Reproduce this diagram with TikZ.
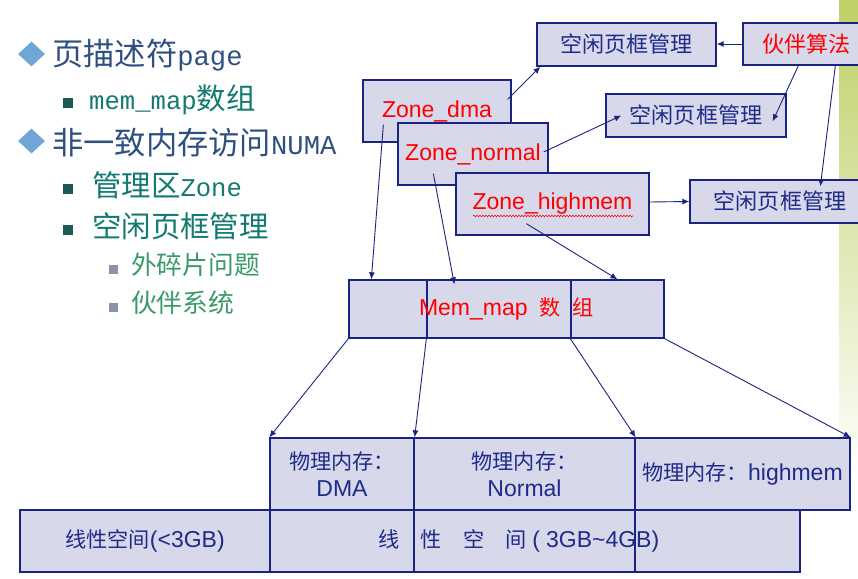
\documentclass[tikz,border=0pt]{standalone}
\usepackage{fontspec}
\setmainfont{Liberation Sans}
\newfontfamily\cjk[Scale=0.92]{Noto Sans CJK SC}
\newfontfamily\listmono[Scale=0.8]{Liberation Mono}
\usetikzlibrary{arrows.meta, shapes.geometric, decorations.pathmorphing}

\definecolor{boxfill}{RGB}{215,216,234}
\definecolor{boxline}{RGB}{26,35,128}
\definecolor{navytext}{RGB}{31,42,138}
\definecolor{headblue}{RGB}{46,80,128}
\definecolor{diamondblue}{RGB}{111,166,214}
\definecolor{subteal}{RGB}{18,122,112}
\definecolor{squareteal}{RGB}{27,91,85}
\definecolor{leafgreen}{RGB}{58,154,104}
\definecolor{leafgrey}{RGB}{138,147,170}
\definecolor{stripgreen}{RGB}{190,208,102}

\begin{document}
\begin{tikzpicture}[x=1pt, y=-1pt, >={Latex[length=7pt,width=6pt]},
		box/.style={draw=boxline, fill=boxfill, line width=1.3pt, inner sep=0pt},
		freebox/.style={box, text=navytext, font=\fontsize{24}{28}\selectfont},
		zonebox/.style={box, text=red, minimum height=62, font=\fontsize{23}{27}\selectfont},
		physbox/.style={box, text=navytext, align=center, font=\fontsize{23}{27}\selectfont},
		headtext/.style={anchor=west, inner sep=0pt, text=headblue, font=\fontsize{34}{40}\selectfont},
		subtext/.style={anchor=west, inner sep=0pt, text=subteal, font=\fontsize{32}{38}\selectfont},
		leaftext/.style={anchor=west, inner sep=0pt, text=leafgreen, font=\fontsize{28}{34}\selectfont}]

		\useasboundingbox (0,0) rectangle (858,578);
		\shade[top color=stripgreen, bottom color=white] (839,0) rectangle (858,480);

		% bullet list
		\node at (31.5,54) [diamond, fill=diamondblue, inner sep=0pt, minimum width=27, minimum height=25] (DiaPage) {};
		\node at (52,55) [headtext] (ItemPage) {{\cjk 页描述符}{\listmono page}};
		\node at (68,103) [fill=squareteal, inner sep=0pt, minimum size=10] (SqMemMap) {};
		\node at (89,100) [subtext] (ItemMemMap) {{\listmono mem\_map}{\cjk 数组}};
		\node at (31.5,141) [diamond, fill=diamondblue, inner sep=0pt, minimum width=27, minimum height=25] (DiaNuma) {};
		\node at (52,143) [headtext] (ItemNuma) {{\cjk 非一致内存访问}{\listmono NUMA}};
		\node at (68,189) [fill=squareteal, inner sep=0pt, minimum size=10] (SqZone) {};
		\node at (92,185) [subtext] (ItemZone) {{\cjk 管理区}{\listmono Zone}};
		\node at (68,230) [fill=squareteal, inner sep=0pt, minimum size=10] (SqFree) {};
		\node at (92,226) [subtext] (ItemFree) {\cjk 空闲页框管理};
		\node at (113,269) [fill=leafgrey, inner sep=0pt, minimum size=9] (SqFrag) {};
		\node at (131,265) [leaftext] (ItemFrag) {\cjk 外碎片问题};
		\node at (113,307) [fill=leafgrey, inner sep=0pt, minimum size=9] (SqBuddy) {};
		\node at (131,303) [leaftext] (ItemBuddy) {\cjk 伙伴系统};

		% free lists and buddy
		\node at (626.5,44.5) [freebox, minimum width=179, minimum height=43] (FreeTop) {\cjk 空闲页框管理};
		\node at (806.5,44) [freebox, text=red, minimum width=127, minimum height=42] (Buddy) {\cjk 伙伴算法};
		\node at (696,115.5) [freebox, minimum width=180, minimum height=43] (FreeMid) {\cjk 空闲页框管理};
		\node at (780,201.5) [freebox, minimum width=180, minimum height=43] (FreeLow) {\cjk 空闲页框管理};

		% zones
		\node at (437,111) [zonebox, minimum width=148] (ZoneDma) {Zone\_dma};
		\node at (473,154) [zonebox, minimum width=150] (ZoneNormal) {Zone\_normal};
		\node at (552.5,204) [zonebox, minimum width=193] (ZoneHigh) {Zone\_highmem};
		\draw[red, line width=0.6pt, decorate, decoration={snake, amplitude=0.8pt, segment length=3pt}]
			([xshift=-79.5pt,yshift=-12pt]ZoneHigh.center) -- ([xshift=80.5pt,yshift=-12pt]ZoneHigh.center);

		% mem_map
		\node at (388,309) [box, minimum width=78, minimum height=58] (MapA) {};
		\node at (499,309) [box, minimum width=144, minimum height=58] (MapB) {};
		\node at (617.5,309) [box, minimum width=93, minimum height=58] (MapC) {};
		\node at (506.5,309) [text=red, font=\fontsize{23}{27}\selectfont] (MapText) {Mem\_map\hspace{12pt}{\cjk 数\hspace{12pt}组}};

		% physical memory and linear space
		\node at (342,474) [physbox, minimum width=144, minimum height=72] (PhysDma) {{\cjk 物理内存：}\\DMA};
		\node at (524.5,474) [physbox, minimum width=221, minimum height=72] (PhysNormal) {{\cjk 物理内存：}\\Normal};
		\node at (742.5,474) [physbox, minimum width=215, minimum height=72] (PhysHigh) {{\cjk 物理内存：}highmem};
		\node at (145,541) [physbox, minimum width=250, minimum height=62] (LinLow) {{\cjk 线性空间}(<3GB)};
		\node at (342,541) [box, minimum width=144, minimum height=62] (LinA) {};
		\node at (524.5,541) [box, minimum width=221, minimum height=62] (LinB) {};
		\node at (717.5,541) [box, minimum width=165, minimum height=62] (LinC) {};
		\node at (519,541) [text=navytext, font=\fontsize{23}{27}\selectfont] (LinText)
			{{\cjk 线\hspace{21pt}性\hspace{21pt}空\hspace{21pt}间}\hspace{6pt}(\hspace{6pt}3GB\textasciitilde 4GB)};

		\path[->, color=boxline, line width=0.9pt]
		([xshift=-4pt,yshift=-20pt]ZoneDma.north east) edge ([xshift=4pt]FreeTop.south west)
		(Buddy.west) edge (Buddy.west -| FreeTop.east)
		([xshift=56pt]Buddy.south west) edge ([xshift=-14pt,yshift=-28pt]FreeMid.north east)
		([xshift=93pt]Buddy.south west) edge ([xshift=131pt,yshift=-7pt]FreeLow.north west)
		([xshift=-5pt,yshift=2pt]ZoneNormal.east) edge ([xshift=16pt]FreeMid.west)
		([yshift=2pt]ZoneHigh.east) edge (FreeLow.west)
		([xshift=21pt,yshift=18pt]ZoneDma.south west) edge ([xshift=23pt]MapA.north west)
		([xshift=36pt,yshift=12pt]ZoneNormal.south west) edge ([xshift=28pt,yshift=-5pt]MapB.north west)
		([xshift=71pt,yshift=12pt]ZoneHigh.south west) edge (MapC.north)
		(MapA.south west) edge (PhysDma.north west)
		(MapB.south west) edge (PhysDma.north east)
		(MapC.south west) edge (PhysNormal.north east)
		(MapC.south east) edge (PhysHigh.north east);
	\end{tikzpicture}
\end{document}
